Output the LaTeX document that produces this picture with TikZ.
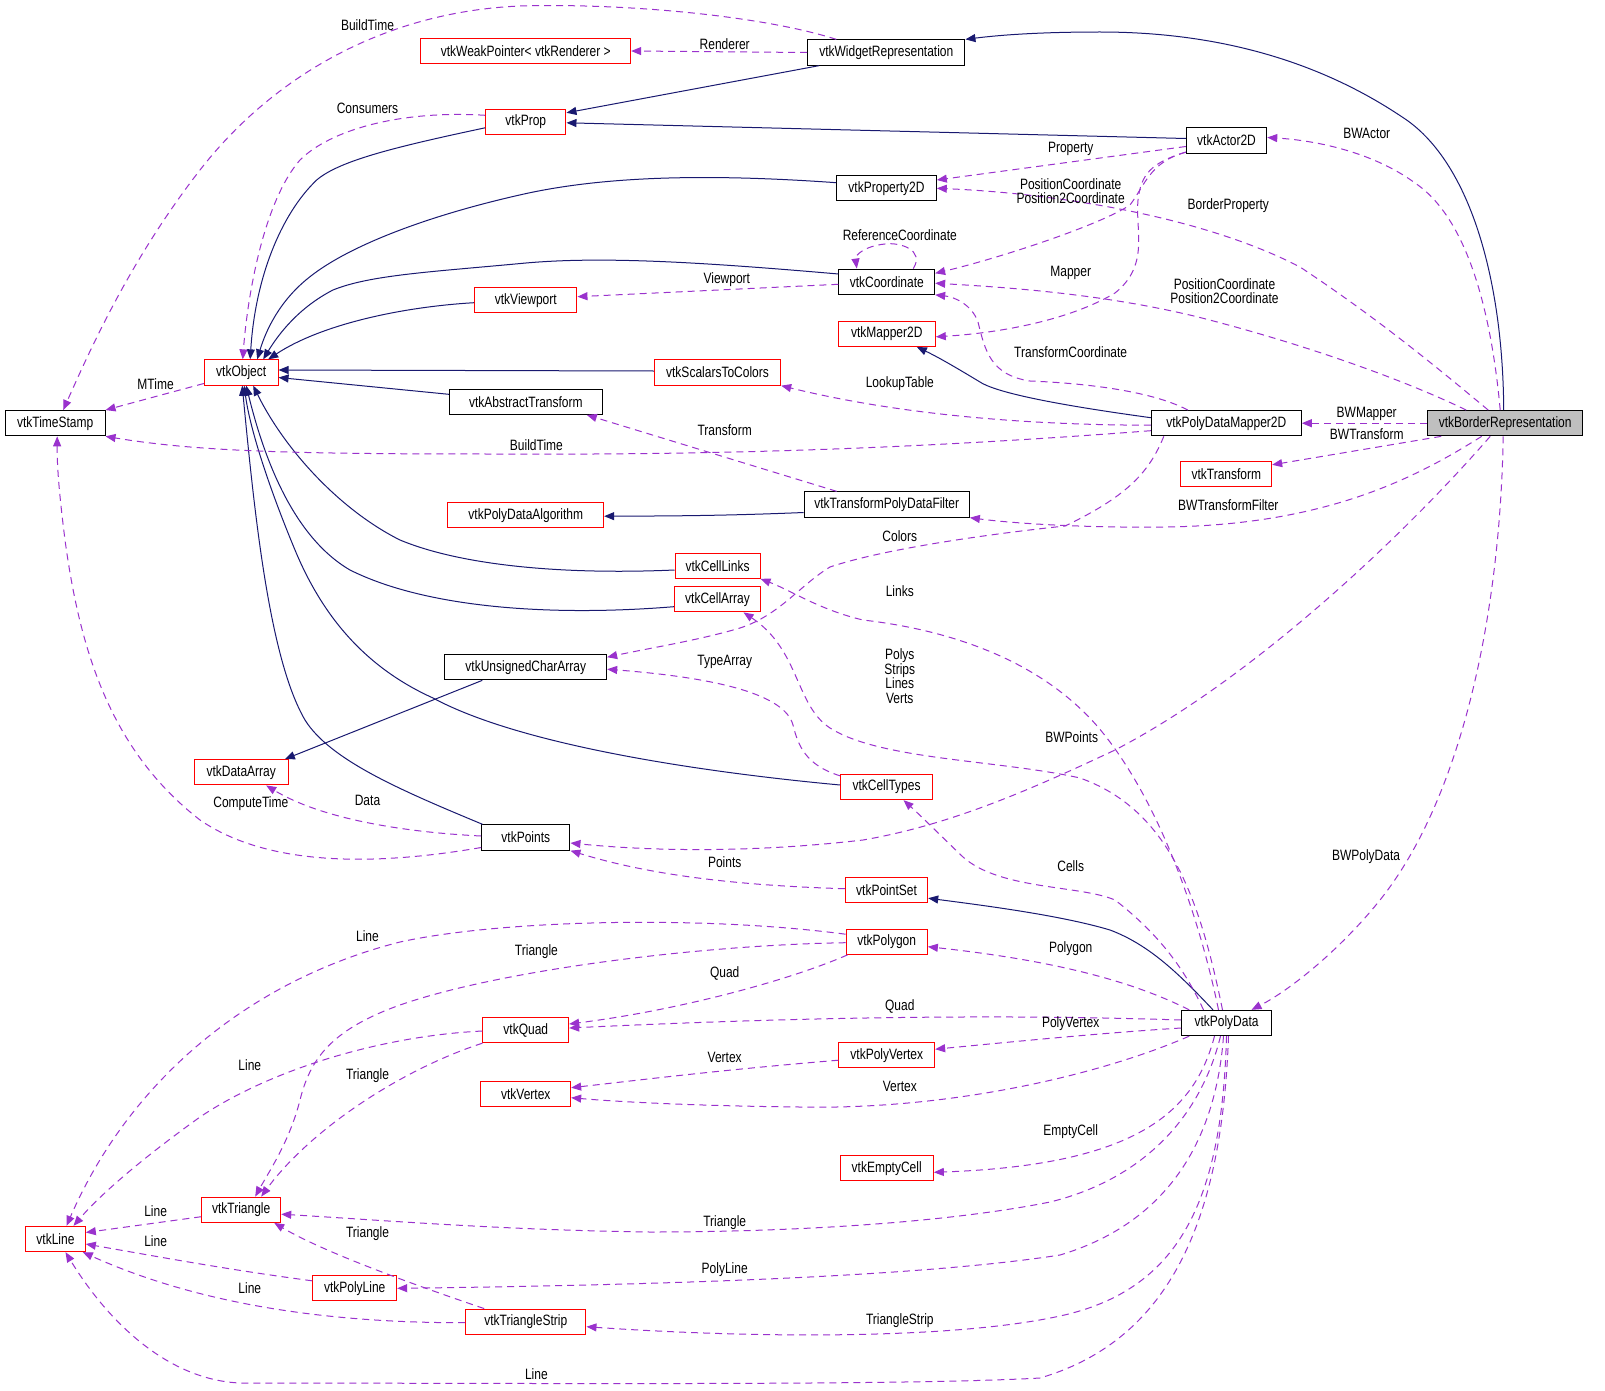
\documentclass[tikz,border=0pt]{standalone}
\usepackage{fontspec}
\setmainfont[FakeStretch=0.8]{Liberation Sans}
\usetikzlibrary{arrows.meta,calc}
\definecolor{edgenavy}{HTML}{191970}
\definecolor{edgepurp}{HTML}{9A32CD}
\definecolor{boxgray}{HTML}{BFBFBF}
\newcommand\dfont{\fontsize{15}{14.5}\selectfont}
\tikzset{
  cls/.style={draw, line width=1pt, minimum height=25.3pt, inner sep=0pt, font=\dfont, fill=white, text=black},
  docbox/.style={cls, draw=black},
  undocbox/.style={cls, draw=red},
  inh/.style={draw=edgenavy, line width=1pt, -{Triangle[length=10pt,width=8pt]}},
  use/.style={draw=edgepurp, line width=1pt, dash pattern=on 7pt off 5pt, -{Triangle[length=10pt,width=8pt]}},
  lbl/.style={font=\dfont, inner sep=0pt, align=center, text=black}
}
\begin{document}
\begin{tikzpicture}[x=1pt,y=-1pt]
\fill[white] (0,0) rectangle (1605,1391);
\useasboundingbox (0,0) rectangle (1605,1391);

% nodes
\node[docbox, minimum width=99.7pt] (ts) at (55.2,423.2) {vtkTimeStamp};
\node[undocbox, minimum width=73.7pt] (obj) at (241.2,372.5) {vtkObject};
\node[undocbox, minimum width=209.7pt] (weak) at (525.8,51) {vtkWeakPointer< vtkRenderer >};
\node[undocbox, minimum width=80.3pt] (prop) at (525.8,121.8) {vtkProp};
\node[undocbox, minimum width=102.3pt] (view) at (525.8,300.3) {vtkViewport};
\node[docbox, minimum width=153pt] (abst) at (525.8,401.8) {vtkAbstractTransform};
\node[docbox, minimum width=157.3pt] (wrep) at (886.3,52.5) {vtkWidgetRepresentation};
\node[docbox, minimum width=99.6pt] (prop2d) at (886.5,188.3) {vtkProperty2D};
\node[docbox, minimum width=95.7pt] (coord) at (886.8,281.7) {vtkCoordinate};
\node[undocbox, minimum width=97pt] (map2d) at (886.8,333.8) {vtkMapper2D};
\node[undocbox, minimum width=126.4pt] (s2c) at (717.5,372.5) {vtkScalarsToColors};
\node[docbox, minimum width=80.4pt] (actor) at (1226.5,140.5) {vtkActor2D};
\node[docbox, minimum width=150pt] (pdm) at (1226.3,423.2) {vtkPolyDataMapper2D};
\node[docbox, fill=boxgray, minimum width=155pt] (bord) at (1505.2,423.2) {vtkBorderRepresentation};
\node[undocbox, minimum width=90.7pt] (trans) at (1226.3,473.8) {vtkTransform};
\node[undocbox, minimum width=155.7pt] (pda) at (525.8,515.2) {vtkPolyDataAlgorithm};
\node[docbox, minimum width=161.7pt] (uca) at (525.8,667.2) {vtkUnsignedCharArray};
\node[undocbox, minimum width=94.3pt] (darr) at (241.2,772.3) {vtkDataArray};
\node[docbox, minimum width=88.3pt] (pts) at (525.8,837.5) {vtkPoints};
\node[docbox, minimum width=165.3pt] (tpdf) at (886.7,504.5) {vtkTransformPolyDataFilter};
\node[undocbox, minimum width=85pt] (links) at (717.5,565.7) {vtkCellLinks};
\node[undocbox, minimum width=86.4pt] (carr) at (717.5,599.2) {vtkCellArray};
\node[undocbox, minimum width=91.6pt] (ctypes) at (886.5,787) {vtkCellTypes};
\node[undocbox, minimum width=82.4pt] (pset) at (886.5,889.7) {vtkPointSet};
\node[undocbox, minimum width=59.6pt] (line) at (55.5,1239) {vtkLine};
\node[undocbox, minimum width=79pt] (tri) at (241.2,1209.7) {vtkTriangle};
\node[undocbox, minimum width=84pt] (pline) at (354.7,1288.3) {vtkPolyLine};
\node[undocbox, minimum width=120.3pt] (tstrip) at (525.8,1321.7) {vtkTriangleStrip};
\node[undocbox, minimum width=85.7pt] (quad) at (525.8,1030) {vtkQuad};
\node[undocbox, minimum width=89.7pt] (vert) at (525.8,1093.7) {vtkVertex};
\node[undocbox, minimum width=81.3pt] (poly) at (886.7,941.7) {vtkPolygon};
\node[undocbox, minimum width=95.7pt] (pvert) at (886.8,1055.2) {vtkPolyVertex};
\node[undocbox, minimum width=93.3pt] (empty) at (886.7,1168.3) {vtkEmptyCell};
\node[docbox, minimum width=89.6pt] (pd) at (1226.5,1023) {vtkPolyData};

% inheritance
\draw[inh] ($(bord.north)+(-1.5,0)$) .. controls (1503,280) and (1470,160) .. (1401.7,116.7) .. controls (1320,62) and (1220,32) .. (1100,32) .. controls (1040,32) and (1000,35) .. (wrep.north east);
\draw[inh] ($(wrep.south west)+(12,0)$) -- ($(prop.east)+(0,-9)$);
\draw[inh] ($(actor.west)+(0,-2)$) -- ($(prop.east)+(0,1)$);
\draw[inh] ($(prop.west)+(0,6)$) .. controls (400,146) and (340,160) .. (316.7,180) .. controls (280,215) and (255,280) .. ($(obj.north)+(9,0)$);
\draw[inh] ($(prop2d.west)+(0,-5.6)$) .. controls (700,173) and (600,177) .. (522.7,194.3) .. controls (430,215) and (350,245) .. (310,276.7) .. controls (280,300) and (266,330) .. ($(obj.north)+(16,0)$);
\draw[inh] ($(coord.west)+(0,-7.7)$) .. controls (700,262) and (600,256) .. (522.7,263.3) .. controls (430,272) and (370,275) .. (333,290) .. controls (298,308) and (278,335) .. ($(obj.north)+(22,0)$);
\draw[inh] ($(view.west)+(0,2.4)$) .. controls (400,307) and (320,325) .. ($(obj.north)+(27,0)$);
\draw[inh] ($(s2c.west)+(0,-1.5)$) -- ($(obj.east)+(0,-2.5)$);
\draw[inh] ($(abst.west)+(0,-7.5)$) -- ($(obj.east)+(0,5)$);
\draw[inh] ($(tpdf.west)+(0,8)$) .. controls (720,516) and (660,516) .. ($(pda.east)+(0,1)$);
\draw[inh] ($(links.west)+(0,4.3)$) .. controls (560,575) and (460,565) .. (400,540) .. controls (340,510) and (285,450) .. ($(obj.south)+(12,0)$);
\draw[inh] ($(carr.west)+(0,7.5)$) .. controls (560,616) and (430,610) .. (350,570) .. controls (290,535) and (262,450) .. ($(obj.south)+(5,0)$);
\draw[inh] ($(ctypes.west)+(0,-2)$) .. controls (700,772) and (520,745) .. (433,698) .. controls (360,665) and (320,610) .. (295,550) .. controls (270,490) and (250,430) .. ($(obj.south)+(3,0)$);
\draw[inh] ($(pts.north west)+(1.5,0)$) .. controls (400,790) and (330,760) .. (305,720) .. controls (270,660) and (255,520) .. ($(obj.south)+(1,0)$);
\draw[inh] ($(uca.south)+(-43.5,0)$) -- ($(darr.north east)+(-4,0)$);
\draw[inh] ($(pdm.west)+(0,-5.5)$) .. controls (1080,408) and (1000,395) .. (980,382) .. controls (960,370) and (940,358) .. ($(map2d.south)+(30,0)$);
\draw[inh] ($(pd.north)+(-13.5,0)$) .. controls (1180,975) and (1150,945) .. (1110,930) .. controls (1060,915) and (980,905) .. ($(pset.east)+(0,8.5)$);

% usage
\draw[use] ($(bord.north)+(-5,0)$) .. controls (1492,320) and (1470,220) .. (1415,183) .. controls (1370,150) and (1310,140) .. ($(actor.east)+(0,-3)$);
\draw[use] ($(bord.north)+(-17,0)$) .. controls (1440,370) and (1380,320) .. (1300,267) .. controls (1200,215) and (1050,193) .. (prop2d.east);
\draw[use] ($(bord.north)+(-39,0)$) .. controls (1400,378) and (1300,343) .. (1198,317) .. controls (1100,293) and (1000,287) .. ($(coord.east)+(0,1.5)$);
\draw[use] (bord.west) -- (pdm.east);
\draw[use] ($(bord.south west)+(14,0)$) -- ($(trans.east)+(0,-9)$);
\draw[use] ($(bord.south)+(-23.5,0)$) .. controls (1420,475) and (1330,525) .. (1165,527) .. controls (1080,528) and (1010,523) .. (tpdf.south east);
\draw[use] ($(bord.south)+(-15,0)$) .. controls (1400,540) and (1250,680) .. (1115,750) .. controls (1030,790) and (950,825) .. (863,840) .. controls (760,852) and (660,852) .. ($(pts.east)+(0,5.5)$);
\draw[use] ($(bord.south)+(-2,0)$) .. controls (1500,620) and (1460,800) .. (1380,900) .. controls (1340,950) and (1290,990) .. ($(pd.north)+(25,0)$);
\draw[use] ($(actor.west)+(0,6)$) -- ($(prop2d.east)+(0,-8.3)$);
\draw[use] ($(actor.south west)+(0,-1.5)$) .. controls (1150,162) and (1145,185) .. (1130,205) .. controls (1100,225) and (1000,258) .. ($(coord.east)+(0,-8.4)$);
\draw[use] ($(actor.south west)+(0,-1.5)$) .. controls (1150,163) and (1141,175) .. (1138,200) .. controls (1135,230) and (1150,265) .. (1115,293) .. controls (1070,320) and (1000,333) .. ($(map2d.east)+(0,3)$);
\draw[use] ($(coord.west)+(0,2.6)$) -- ($(view.east)+(0,-3.6)$);
\draw[use] ($(coord.north)+(26.5,0)$) .. controls (925,250) and (900,242) .. (885,244) .. controls (865,246) and (855,255) .. ($(coord.north)+(-30,0)$);
\draw[use] ($(pdm.north west)+(37,0)$) .. controls (1150,390) and (1080,383) .. (1030,381) .. controls (990,375) and (985,350) .. (978,322) .. controls (972,305) and (955,297) .. (coord.south east);
\draw[use] ($(pdm.west)+(0,2)$) .. controls (1000,425) and (880,410) .. (s2c.south east);
\draw[use] ($(pdm.west)+(0,7.5)$) .. controls (900,450) and (700,455) .. (500,454) .. controls (300,454) and (200,452) .. (ts.south east);
\draw[use] ($(pdm.south west)+(13,0)$) .. controls (1150,470) and (1130,495) .. (1065,526) .. controls (980,535) and (880,550) .. (830,567) .. controls (800,585) and (780,615) .. (740,628) .. controls (700,640) and (650,648) .. ($(uca.east)+(0,-10)$);
\draw[use] ($(tpdf.north)+(-50,0)$) -- ($(abst.south east)+(-16,0)$);
\draw[use] (wrep.west) -- (weak.east);
\draw[use] ($(wrep.north)+(-50,0)$) .. controls (760,15) and (620,3) .. (520,6) .. controls (380,12) and (270,80) .. (200,170) .. controls (130,260) and (90,350) .. ($(ts.north)+(8,0)$);
\draw[use] ($(prop.west)+(0,-6.5)$) .. controls (400,110) and (330,130) .. (300,160) .. controls (265,200) and (248,290) .. ($(obj.north)+(1.5,0)$);
\draw[use] ($(obj.west)+(0,11)$) -- (ts.north east);
\draw[use] ($(pts.west)+(0,-1.5)$) .. controls (400,832) and (320,818) .. ($(darr.south)+(25,0)$);
\draw[use] ($(pts.west)+(0,10)$) .. controls (380,865) and (270,868) .. (200,820) .. controls (110,750) and (80,650) .. (65,540) .. controls (60,500) and (57,470) .. ($(ts.south)+(2,0)$);
\draw[use] ($(pset.west)+(0,-1)$) .. controls (720,885) and (640,872) .. (pts.south east);
\draw[use] ($(ctypes.north west)+(0,2)$) .. controls (805,765) and (798,745) .. (793,725) .. controls (785,695) and (720,678) .. ($(uca.east)+(0,2)$);
\draw[use] ($(pd.north)+(-8,0)$) .. controls (1200,920) and (1160,800) .. (1098,727) .. controls (1040,660) and (950,630) .. (863,620) .. controls (820,610) and (790,590) .. (links.south east);
\draw[use] ($(pd.north)+(-4,0)$) .. controls (1200,900) and (1170,810) .. (1080,778) .. controls (1000,760) and (880,760) .. (830,728) .. controls (795,705) and (800,650) .. ($(carr.south)+(26,0)$);
\draw[use] ($(pd.north)+(-23,0)$) .. controls (1185,970) and (1160,935) .. (1115,900) .. controls (1080,885) and (1000,890) .. (963,857) .. controls (940,835) and (920,815) .. ($(ctypes.south)+(17,0)$);
\draw[use] ($(pd.north west)+(8,0)$) .. controls (1130,980) and (1050,960) .. ($(poly.east)+(0,5)$);
\draw[use] ($(pd.west)+(0,-3)$) .. controls (1000,1014) and (800,1017) .. ($(quad.east)+(0,-2)$);
\draw[use] ($(pd.west)+(0,5)$) .. controls (1100,1033) and (1000,1043) .. ($(pvert.east)+(0,-6)$);
\draw[use] ($(pd.south west)+(8,0)$) .. controls (1100,1075) and (950,1110) .. (800,1107) .. controls (700,1106) and (620,1102) .. ($(vert.east)+(0,4)$);
\draw[use] ($(pd.south)+(-12,0)$) .. controls (1195,1110) and (1140,1165) .. ($(empty.east)+(0,4)$);
\draw[use] ($(pd.south)+(-6,0)$) .. controls (1200,1120) and (1140,1180) .. (1050,1202) .. controls (950,1222) and (800,1232) .. (650,1232) .. controls (500,1230) and (380,1220) .. ($(tri.east)+(0,4.5)$);
\draw[use] ($(pd.south)+(-3,0)$) .. controls (1215,1150) and (1160,1225) .. (1060,1255) .. controls (950,1272) and (750,1284) .. (pline.east);
\draw[use] (pd.south) .. controls (1222,1200) and (1180,1290) .. (1060,1316) .. controls (950,1340) and (750,1338) .. ($(tstrip.east)+(0,5)$);
\draw[use] ($(pd.south)+(2,0)$) .. controls (1222,1220) and (1170,1340) .. (1040,1378) .. controls (900,1386) and (500,1383) .. (240,1383) .. controls (170,1380) and (110,1325) .. ($(line.south)+(10,0)$);
\draw[use] ($(poly.west)+(0,-7.5)$) .. controls (700,915) and (500,920) .. (400,942) .. controls (250,980) and (130,1080) .. ($(line.north)+(11,0)$);
\draw[use] ($(poly.west)+(0,1)$) .. controls (700,945) and (500,970) .. (400,1005) .. controls (330,1030) and (310,1060) .. (300,1100) .. controls (290,1140) and (270,1170) .. ($(tri.north)+(14,0)$);
\draw[use] ($(poly.south west)+(2,0)$) .. controls (790,980) and (680,1010) .. ($(quad.east)+(0,-6)$);
\draw[use] ($(quad.west)+(0,1)$) .. controls (380,1036) and (270,1070) .. (200,1117) .. controls (140,1160) and (100,1195) .. ($(line.north)+(18,0)$);
\draw[use] (quad.south west) .. controls (400,1070) and (310,1130) .. ($(tri.north)+(20,0)$);
\draw[use] ($(pvert.west)+(0,5)$) .. controls (720,1070) and (640,1080) .. ($(vert.east)+(0,-6)$);
\draw[use] ($(tri.west)+(0,7)$) -- ($(line.east)+(0,-6.5)$);
\draw[use] ($(pline.west)+(0,-7.5)$) .. controls (230,1270) and (160,1257) .. ($(line.east)+(0,5)$);
\draw[use] ($(tstrip.north west)+(19,0)$) .. controls (400,1280) and (320,1250) .. ($(tri.south east)+(-7,0)$);
\draw[use] ($(tstrip.west)+(0,1)$) .. controls (330,1323) and (200,1305) .. ($(line.south east)+(-3,0)$);

% labels
\node[lbl] (l1) at (367.5,25.6) {BuildTime};
\node[lbl] (l2) at (724.7,44) {Renderer};
\node[lbl] (l3) at (367.5,108.5) {Consumers};
\node[lbl] (l4) at (1366.7,133.3) {BWActor};
\node[lbl] (l5) at (1070.7,148.4) {Property};
\node[lbl] (l6) at (1070.7,191) {PositionCoordinate\\Position2Coordinate};
\node[lbl] (l7) at (1228.3,205.3) {BorderProperty};
\node[lbl] (l8) at (899.8,235.4) {ReferenceCoordinate};
\node[lbl] (l9) at (726.8,279.4) {Viewport};
\node[lbl] (l10) at (1070.7,273.3) {Mapper};
\node[lbl] (l11) at (1224.5,291) {PositionCoordinate\\Position2Coordinate};
\node[lbl] (l12) at (1070.7,352.1) {TransformCoordinate};
\node[lbl] (l13) at (155.6,383.9) {MTime};
\node[lbl] (l14) at (899.8,383.9) {LookupTable};
\node[lbl] (l15) at (1366.7,414.3) {BWMapper};
\node[lbl] (l16) at (724.7,429.9) {Transform};
\node[lbl] (l17) at (1366.7,434.3) {BWTransform};
\node[lbl] (l18) at (536.4,445.3) {BuildTime};
\node[lbl] (l19) at (1228.3,505) {BWTransformFilter};
\node[lbl] (l20) at (899.8,536.4) {Colors};
\node[lbl] (l21) at (899.8,591.6) {Links};
\node[lbl] (l22) at (899.8,676.3) {Polys\\Strips\\Lines\\Verts};
\node[lbl] (l23) at (724.7,662.3) {TypeArray};
\node[lbl] (l24) at (1071.7,737) {BWPoints};
\node[lbl] (l25) at (250.8,803.5) {ComputeTime};
\node[lbl] (l26) at (367.5,800.5) {Data};
\node[lbl] (l27) at (1070.7,866) {Cells};
\node[lbl] (l28) at (724.7,861.9) {Points};
\node[lbl] (l29) at (1366,856.7) {BWPolyData};
\node[lbl] (l30) at (367.5,936.6) {Line};
\node[lbl] (l31) at (536.4,952) {Triangle};
\node[lbl] (l32) at (1070.7,948.9) {Polygon};
\node[lbl] (l33) at (724.7,973.4) {Quad};
\node[lbl] (l34) at (899.8,1006.2) {Quad};
\node[lbl] (l35) at (1070.7,1023.6) {PolyVertex};
\node[lbl] (l36) at (724.7,1057.4) {Vertex};
\node[lbl] (l37) at (249.8,1065.6) {Line};
\node[lbl] (l38) at (367.5,1075.8) {Triangle};
\node[lbl] (l39) at (899.8,1086) {Vertex};
\node[lbl] (l40) at (1070.7,1132.1) {EmptyCell};
\node[lbl] (l41) at (155.6,1211) {Line};
\node[lbl] (l42) at (724.7,1222.2) {Triangle};
\node[lbl] (l43) at (367.5,1233.4) {Triangle};
\node[lbl] (l44) at (155.6,1241.6) {Line};
\node[lbl] (l45) at (724.7,1269.3) {PolyLine};
\node[lbl] (l46) at (249.8,1287.7) {Line};
\node[lbl] (l47) at (899.8,1320.4) {TriangleStrip};
\node[lbl] (l48) at (536.4,1373.7) {Line};
\end{tikzpicture}
\end{document}
